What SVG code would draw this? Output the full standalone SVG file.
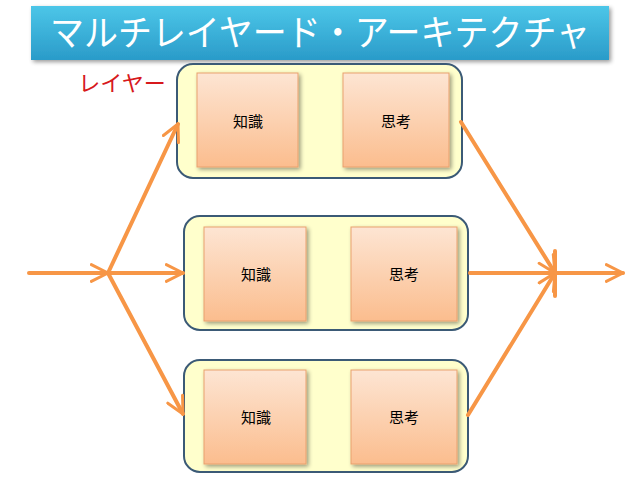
<svg xmlns="http://www.w3.org/2000/svg" width="638" height="479" viewBox="0 0 638 479">
<defs>
<linearGradient id="ban" x1="0" y1="0" x2="0" y2="1">
<stop offset="0" stop-color="#4CC6E8"/>
<stop offset="1" stop-color="#2A9BC9"/>
</linearGradient>
<linearGradient id="inner" x1="0" y1="0" x2="0" y2="1">
<stop offset="0" stop-color="#FDE5D3"/>
<stop offset="1" stop-color="#FBBD8E"/>
</linearGradient>
<filter id="sh" x="-10%" y="-10%" width="130%" height="130%">
<feGaussianBlur in="SourceAlpha" stdDeviation="2"/>
<feOffset dx="2" dy="2"/>
<feComponentTransfer><feFuncA type="linear" slope="0.4"/></feComponentTransfer>
<feMerge><feMergeNode/><feMergeNode in="SourceGraphic"/></feMerge>
</filter>
<marker id="ah" viewBox="0 0 12 12" refX="11" refY="6" markerWidth="5" markerHeight="5" markerUnits="strokeWidth" orient="auto">
<path d="M1,1 L11,6 L1,11" fill="none" stroke="#F79646" stroke-width="1.8" stroke-linecap="round" stroke-linejoin="round"/>
</marker>
</defs>
<style>
.outer{fill:#FFFFCC;stroke:#3B5A76;stroke-width:2}
.inner{fill:url(#inner);stroke:#E9A16E;stroke-width:1}
.lbl{font-family:"Noto Sans CJK JP",sans-serif;font-size:15px;fill:#000;text-anchor:middle}
.arr{fill:none;stroke:#F79646;stroke-width:4;stroke-linecap:round}
</style>
<rect width="638" height="479" fill="#FFFFFF"/>
<g id="title">
<rect x="31" y="6" width="578" height="54" fill="url(#ban)" filter="url(#sh)"/>
<text x="50" y="46" font-family="'Noto Sans CJK JP',sans-serif" font-size="36" fill="#FFFFFF" textLength="540" lengthAdjust="spacingAndGlyphs">マルチレイヤード・アーキテクチャ</text>
</g>
<g id="layer-label">
<text x="122" y="91" font-family="'Noto Sans CJK JP',sans-serif" font-size="22" fill="#D7191C" text-anchor="middle">レイヤー</text>
</g>
<g id="layer1">
<rect class="outer" x="177" y="64" width="285" height="114" rx="16"/>
<rect class="inner" x="197" y="73" width="101" height="94" filter="url(#sh)"/>
<rect class="inner" x="343" y="73" width="106" height="94" filter="url(#sh)"/>
<text class="lbl" x="248" y="127">知識</text>
<text class="lbl" x="396" y="127">思考</text>
</g>
<g id="layer2">
<rect class="outer" x="184" y="216" width="284" height="114" rx="16"/>
<rect class="inner" x="204" y="227" width="102" height="94" filter="url(#sh)"/>
<rect class="inner" x="351" y="227" width="106" height="94" filter="url(#sh)"/>
<text class="lbl" x="256" y="280">知識</text>
<text class="lbl" x="404" y="280">思考</text>
</g>
<g id="layer3">
<rect class="outer" x="184" y="360" width="284" height="112" rx="16"/>
<rect class="inner" x="204" y="370" width="102" height="94" filter="url(#sh)"/>
<rect class="inner" x="351" y="370" width="106" height="94" filter="url(#sh)"/>
<text class="lbl" x="256" y="423">知識</text>
<text class="lbl" x="404" y="423">思考</text>
</g>
<g id="connectors">
<line class="arr" x1="29" y1="273" x2="108" y2="273" marker-end="url(#ah)"/>
<line class="arr" x1="108" y1="273" x2="178" y2="124" marker-end="url(#ah)"/>
<line class="arr" x1="108" y1="273" x2="183" y2="273" marker-end="url(#ah)"/>
<line class="arr" x1="108" y1="273" x2="183" y2="414" marker-end="url(#ah)"/>
<line class="arr" x1="461" y1="122" x2="555" y2="273" marker-end="url(#ah)"/>
<line class="arr" x1="470" y1="273" x2="555" y2="273"/>
<line class="arr" x1="468" y1="415" x2="555" y2="273" marker-end="url(#ah)"/>
<line class="arr" x1="555" y1="251" x2="555" y2="296"/>
<line class="arr" x1="555" y1="273" x2="623" y2="273" marker-end="url(#ah)"/>
</g>
</svg>
